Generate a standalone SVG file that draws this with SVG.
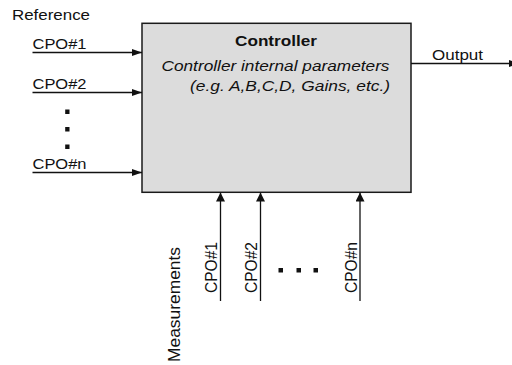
<svg xmlns="http://www.w3.org/2000/svg" width="512" height="365" viewBox="0 0 512 365">
  <style>
    .lbl { font-family: "Liberation Sans", Arial, sans-serif; font-size: 14.5px; fill: #111; }
    .conn { stroke: #111; stroke-width: 1.3; fill: none; }
    .dot { fill: #111; }
  </style>
  <defs>
    <marker id="ah" viewBox="0 0 10 7" refX="10" refY="3.5" markerWidth="10.5" markerHeight="7" markerUnits="userSpaceOnUse" orient="auto">
      <path d="M0,0 L10,3.5 L0,7 z" fill="#111"/>
    </marker>
    <marker id="av" viewBox="0 0 9 9" refX="9" refY="4.5" markerWidth="9" markerHeight="9" markerUnits="userSpaceOnUse" orient="auto">
      <path d="M0,0 L9,4.5 L0,9 z" fill="#111"/>
    </marker>
  </defs>

  <g id="controller">
    <rect x="142" y="23.3" width="269" height="169" fill="#dcdcdc" stroke="#1a1a1a" stroke-width="1.5"/>
    <text class="lbl" x="235" y="46" font-weight="bold" font-size="15" textLength="82" lengthAdjust="spacingAndGlyphs">Controller</text>
    <text class="lbl" x="161.5" y="71" font-style="italic" font-size="15" textLength="228" lengthAdjust="spacingAndGlyphs">Controller internal parameters</text>
    <text class="lbl" x="190" y="91" font-style="italic" font-size="15" textLength="200" lengthAdjust="spacingAndGlyphs">(e.g. A,B,C,D, Gains, etc.)</text>
  </g>

  <g id="reference">
    <text class="lbl" x="12" y="20" textLength="78" lengthAdjust="spacingAndGlyphs">Reference</text>
  </g>

  <g id="ref-cpo1">
    <text class="lbl" x="32.5" y="49" textLength="54" lengthAdjust="spacingAndGlyphs">CPO#1</text>
  </g>
  <g id="ref-cpo2">
    <text class="lbl" x="32.5" y="89" textLength="54" lengthAdjust="spacingAndGlyphs">CPO#2</text>
  </g>
  <g id="ref-dots">
    <rect class="dot" x="65.2" y="109.5" width="4.3" height="4.5"/>
    <rect class="dot" x="65.2" y="127" width="4.3" height="4.5"/>
    <rect class="dot" x="65.2" y="144.5" width="4.3" height="4.5"/>
  </g>
  <g id="ref-cpon">
    <text class="lbl" x="32.5" y="169" textLength="54" lengthAdjust="spacingAndGlyphs">CPO#n</text>
  </g>

  <g id="output">
    <text class="lbl" x="432" y="60" textLength="51" lengthAdjust="spacingAndGlyphs">Output</text>
  </g>

  <g id="meas-label">
    <text class="lbl" transform="translate(180,362) scale(1.2,1) rotate(-90)" x="0" y="0" font-size="15" textLength="115" lengthAdjust="spacingAndGlyphs">Measurements</text>
  </g>
  <g id="meas-cpo1">
    <text class="lbl" transform="translate(216.5,293) scale(1.2,1) rotate(-90)" x="0" y="0" font-size="15" textLength="51" lengthAdjust="spacingAndGlyphs">CPO#1</text>
  </g>
  <g id="meas-cpo2">
    <text class="lbl" transform="translate(257,293) scale(1.2,1) rotate(-90)" x="0" y="0" font-size="15" textLength="51" lengthAdjust="spacingAndGlyphs">CPO#2</text>
  </g>
  <g id="meas-dots">
    <rect class="dot" x="278.5" y="268" width="4.5" height="4.5"/>
    <rect class="dot" x="296.5" y="268" width="4.5" height="4.5"/>
    <rect class="dot" x="313.5" y="268" width="4.5" height="4.5"/>
  </g>
  <g id="meas-cpon">
    <text class="lbl" transform="translate(356.5,293) scale(1.2,1) rotate(-90)" x="0" y="0" font-size="15" textLength="51" lengthAdjust="spacingAndGlyphs">CPO#n</text>
  </g>

  <g id="connectors">
    <line class="conn" x1="32.5" y1="52.5" x2="142" y2="52.5" marker-end="url(#ah)"/>
    <line class="conn" x1="32.5" y1="92.5" x2="142" y2="92.5" marker-end="url(#ah)"/>
    <line class="conn" x1="32.5" y1="172.5" x2="142" y2="172.5" marker-end="url(#ah)"/>
    <line class="conn" x1="411" y1="63.5" x2="519" y2="63.5" marker-end="url(#ah)"/>
    <line class="conn" x1="220.5" y1="301" x2="220.5" y2="192.5" marker-end="url(#av)"/>
    <line class="conn" x1="260.5" y1="301" x2="260.5" y2="192.5" marker-end="url(#av)"/>
    <line class="conn" x1="360" y1="301" x2="360" y2="192.5" marker-end="url(#av)"/>
  </g>
</svg>
